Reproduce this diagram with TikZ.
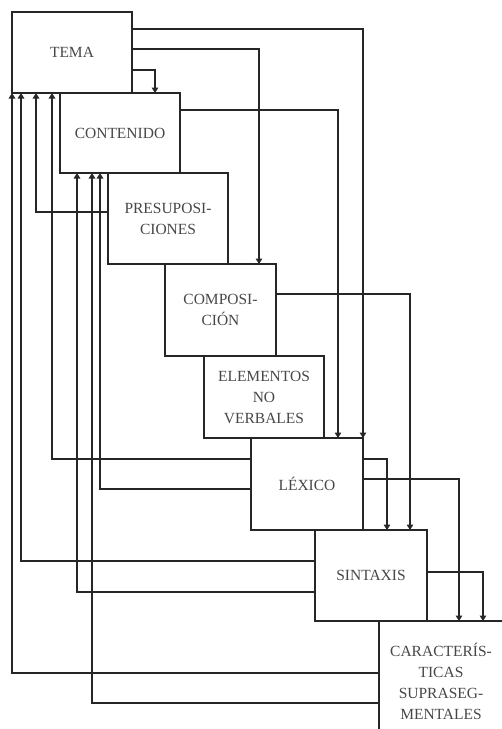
\documentclass[tikz,border=0pt]{standalone}
\usepackage{fontspec}
\setmainfont{Liberation Serif}
\usepackage{tikz}
\usetikzlibrary{positioning,arrows.meta}

\begin{document}
\begin{tikzpicture}[
  x=1pt, y=-1pt,
  line width=1.6pt, color=black!85,
  box/.style={draw, anchor=north west, align=center, inner sep=0pt, outer sep=0pt,
    text=black!72, font=\fontsize{15.5}{21}\selectfont},
  >={Triangle[length=5.5pt,width=6.5pt]}
]
\useasboundingbox (0,0) rectangle (502,729);
\clip (0,0) rectangle (502,729);
\node[box, minimum width=120pt, minimum height=81pt] (tema) at (12,12) {TEMA};
\node[box, minimum width=120pt, minimum height=80pt] (contenido) at (60,93) {CONTENIDO};
\node[box, minimum width=120pt, minimum height=91pt] (presup) at (108,173) {PRESUPOSI-\\CIONES};
\node[box, minimum width=111pt, minimum height=92pt] (compos) at (165,264) {COMPOSI-\\CIÓN};
\node[box, minimum width=120pt, minimum height=82pt] (elem) at (204,356) {ELEMENTOS\\NO\\VERBALES};
\node[box, minimum width=112pt, minimum height=92pt] (lexico) at (251,438) {LÉXICO};
\node[box, minimum width=112pt, minimum height=91pt] (sintaxis) at (315,530) {SINTAXIS};
\node[box, minimum width=124pt, minimum height=120pt] (caract) at (379,621) {CARACTERÍS-\\TICAS\\SUPRASEG-\\MENTALES};
% forward
\draw[->] (tema.east |- 0,70) -| (contenido.north -| 155,0);
\draw[->] (tema.east |- 0,49) -| (compos.north -| 259,0);
\draw[->] (tema.east |- 0,29) -| (lexico.north east);
\draw[->] (contenido.east |- 0,110) -| (lexico.north -| 338,0);
\draw[->] (compos.east |- 0,294) -| (sintaxis.north -| 410,0);
\draw[->] (lexico.east |- 0,459) -| (sintaxis.north -| 387,0);
\draw[->] (lexico.east |- 0,479) -| (caract.north -| 459,0);
\draw[->] (sintaxis.east |- 0,572) -| (caract.north -| 483,0);
% back to tema / contenido
\draw[->] (presup.west |- 0,212) -| (tema.south -| 36,0);
\draw[->] (lexico.west |- 0,459) -| (tema.south -| 52,0);
\draw[->] (lexico.west |- 0,489) -| (contenido.south -| 100,0);
\draw[->] (sintaxis.west |- 0,561) -| (tema.south -| 21,0);
\draw[->] (sintaxis.west |- 0,592) -| (contenido.south -| 77,0);
\draw[->] (caract.west |- 0,673) -| (tema.south west);
\draw[->] (caract.west |- 0,703) -| (contenido.south -| 92,0);
\end{tikzpicture}
\end{document}
